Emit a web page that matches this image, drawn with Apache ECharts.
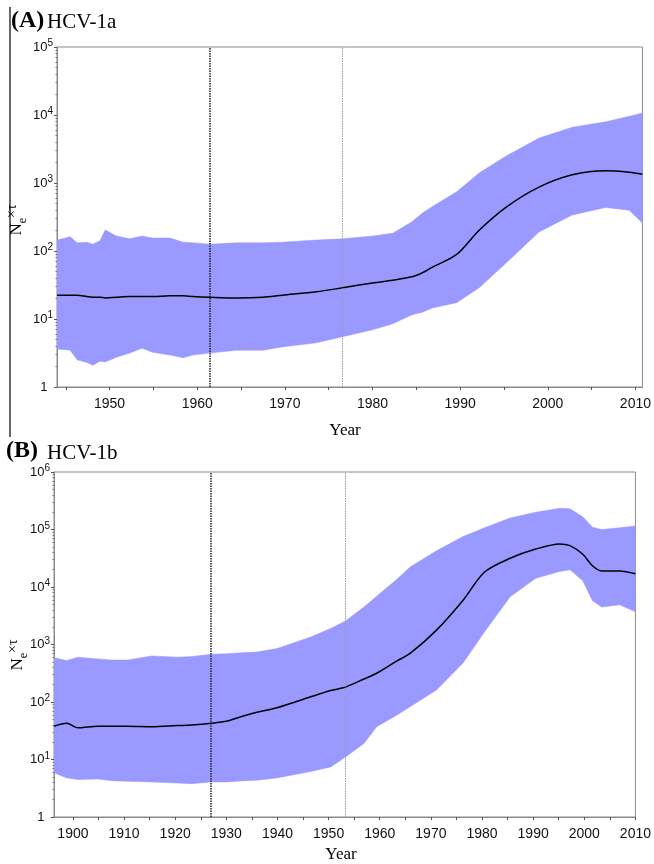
<!DOCTYPE html>
<html>
<head>
<meta charset="utf-8">
<script src="https://cdn.jsdelivr.net/npm/echarts@6/dist/echarts.min.js"></script>
<style>
html,body{margin:0;padding:0;background:#fff;}
#chart{width:654px;height:864px;}
</style>
</head>
<body>
<div id="chart"></div>
<script>
// ---- Panel A: HCV-1a ----
const yearsA  = [1944, 1945.5, 1946.3, 1947.4, 1948.1, 1948.9, 1949.5, 1950.8, 1952.3, 1953.7, 1954.9, 1956.9, 1958.4, 1959.5, 1961.4, 1964.5, 1967.5, 1969.7, 1973.6, 1976.6, 1980.0, 1982.3, 1984.5, 1985.7, 1986.8, 1989.6, 1992.2, 1995.3, 1999.0, 2002.8, 2006.6, 2009.3, 2010.8];
const upperA  = [145, 162, 132, 135, 126, 141, 204, 166, 151, 166, 155, 155, 135, 132, 126, 132, 132, 135, 145, 151, 166, 182, 269, 363, 447, 741, 1413, 2512, 4571, 6607, 7943, 9550, 10715];
const medianA = [22.4, 22.4, 22.4, 21.4, 20.9, 20.9, 20.4, 20.9, 21.4, 21.4, 21.4, 21.9, 21.9, 21.4, 20.9, 20.4, 20.9, 22.4, 25.1, 28.8, 33.9, 37.2, 41.7, 47.9, 57.5, 89.1, 204, 447, 871, 1318, 1514, 1445, 1349];
const lowerA  = [3.63, 3.47, 2.51, 2.29, 2.09, 2.40, 2.34, 2.75, 3.16, 3.72, 3.24, 2.95, 2.69, 2.95, 3.16, 3.47, 3.47, 3.89, 4.47, 5.50, 6.92, 8.5, 11.5, 12.6, 14.5, 17.4, 29, 67.6, 191, 339, 437, 398, 257];
const eventsA = [1961.4, 1976.6];
const xTicksA  = [1945, 1950, 1955, 1960, 1965, 1970, 1975, 1980, 1985, 1990, 1995, 2000, 2005, 2010];
const xLabelsA = [1950, 1960, 1970, 1980, 1990, 2000, 2010];
const yLabelsA = [1, 10, 100, 1000, 10000, 100000];

// ---- Panel B: HCV-1b ----
const yearsB  = [1896.3, 1898.8, 1901.0, 1904.9, 1907.6, 1910.7, 1915.4, 1920.4, 1923.2, 1927.1, 1930.2, 1933.5, 1936.0, 1939.9, 1946.5, 1950.4, 1953.3, 1956.9, 1959.4, 1963.3, 1966.0, 1971.1, 1976.3, 1980.5, 1985.5, 1990.5, 1995.2, 1997.2, 1999.7, 2001.6, 2003.4, 2006.9, 2010];
const upperB  = [589, 525, 603, 562, 537, 537, 631, 603, 617, 676, 692, 724, 741, 851, 1349, 1905, 2570, 4467, 6918, 13490, 22390, 42660, 75860, 107200, 158500, 199500, 234400, 229100, 166000, 109600, 100000, 107200, 114800];
const medianB = [38.0, 42.7, 35.5, 38.0, 38.0, 38.0, 37.2, 38.9, 39.8, 42.7, 46.8, 57.5, 66.1, 79.4, 123, 158, 182, 251, 316, 513, 708, 1778, 5888, 18200, 31620, 45710, 56230, 52480, 37150, 23440, 19050, 19050, 16980];
const lowerB  = [5.89, 4.79, 4.47, 4.57, 4.27, 4.17, 4.07, 3.89, 3.80, 4.07, 4.07, 4.27, 4.37, 4.79, 6.17, 7.41, 11.0, 19.0, 37.2, 58.9, 83.2, 162, 479, 1660, 6761, 14130, 18620, 19950, 12880, 5754, 4467, 4898, 3715];
const eventsB = [1926.9, 1953.3];
const xTicksB  = [1900, 1905, 1910, 1915, 1920, 1925, 1930, 1935, 1940, 1945, 1950, 1955, 1960, 1965, 1970, 1975, 1980, 1985, 1990, 1995, 2000, 2005, 2010];
const xLabelsB = [1900, 1910, 1920, 1930, 1940, 1950, 1960, 1970, 1980, 1990, 2000, 2010];
const yLabelsB = [1, 10, 100, 1000, 10000, 100000, 1000000];

const chart = echarts.init(document.getElementById('chart'), null, {renderer: 'canvas'});

const BAND = '#9999ff';
const AXC = '#8a8a8a';

function yFmt(v) {
  if (v === 1) return '1{s|  }';
  return '10{s|' + Math.round(Math.log10(v)) + '}';
}

function xAxisCfg(idx, min, max, ticks, labels) {
  return {
    type: 'value', gridIndex: idx, min: min, max: max,
    axisLine: {show: true, lineStyle: {color: AXC, width: 1}},
    axisTick: {show: true, length: 3, customValues: ticks, lineStyle: {color: '#555'}},
    axisLabel: {customValues: labels, margin: 10, fontFamily: 'Liberation Sans', fontSize: 14, color: '#111',
      formatter: function (v) { return String(Math.round(v)); }},
    splitLine: {show: false}
  };
}
function yAxisCfg(idx, max, labels) {
  return {
    type: 'log', logBase: 10, gridIndex: idx, min: 1, max: max,
    axisLine: {show: true, lineStyle: {color: AXC, width: 1}},
    axisTick: {show: true, length: 3, customValues: labels, lineStyle: {color: '#555'}},
    minorTick: {show: true, splitNumber: 9, length: 1.5, lineStyle: {color: '#777'}},
    axisLabel: {
      customValues: labels, margin: 4, fontFamily: 'Liberation Sans', fontSize: 13, color: '#111',
      lineHeight: 17, formatter: yFmt,
      rich: {s: {fontSize: 10, lineHeight: 10, verticalAlign: 'top', fontFamily: 'Liberation Sans', color: '#111'}}
    },
    splitLine: {show: false}
  };
}

function bandSeries(idx, years, upper, lower) {
  return {
    type: 'custom', xAxisIndex: idx, yAxisIndex: idx, silent: true, clip: true,
    data: [[years[0], lower[0]]],
    renderItem: function (params, api) {
      const pts = [];
      for (let i = 0; i < years.length; i++) pts.push(api.coord([years[i], upper[i]]));
      for (let i = years.length - 1; i >= 0; i--) pts.push(api.coord([years[i], lower[i]]));
      return {type: 'polygon', shape: {points: pts}, style: {fill: BAND, stroke: BAND, lineWidth: 0.5}};
    },
    z: 1
  };
}

function medianSeries(idx, years, med, events) {
  return {
    type: 'line', xAxisIndex: idx, yAxisIndex: idx,
    data: years.map((y, i) => [y, med[i]]),
    showSymbol: false, smooth: 0.3, silent: true,
    lineStyle: {color: '#000', width: 1.5},
    z: 3,
    markLine: {
      silent: true, symbol: ['none', 'none'], label: {show: false},
      data: [
        {xAxis: events[0], lineStyle: {color: '#222', type: [1.5, 1], width: 1.5}},
        {xAxis: events[1], lineStyle: {color: '#9a9a9a', type: [1.5, 1], width: 1}}
      ]
    }
  };
}

const serif = '"Liberation Serif", "DejaVu Serif", serif';
const nameRich = {
  n: {fontFamily: serif, fontSize: 17, lineHeight: 24, verticalAlign: 'middle', fill: '#000'},
  e: {fontFamily: serif, fontSize: 12, lineHeight: 12, verticalAlign: 'bottom', fill: '#000'},
  t: {fontFamily: serif, fontSize: 14, lineHeight: 14, verticalAlign: 'top', fill: '#000'}
};

const option = {
  animation: false,
  backgroundColor: '#fff',
  grid: [
    {left: 57, top: 47, right: 11, bottom: 477, show: true, borderColor: AXC, borderWidth: 1, backgroundColor: 'transparent'},
    {left: 54, top: 472, right: 16, bottom: 47, show: true, borderColor: AXC, borderWidth: 1, backgroundColor: 'transparent'}
  ],
  xAxis: [
    xAxisCfg(0, 1944, 2010.8, xTicksA, xLabelsA),
    xAxisCfg(1, 1896.3, 2010, xTicksB, xLabelsB)
  ],
  yAxis: [
    yAxisCfg(0, 100000, yLabelsA),
    yAxisCfg(1, 1000000, yLabelsB)
  ],
  series: [
    bandSeries(0, yearsA, upperA, lowerA),
    medianSeries(0, yearsA, medianA, eventsA),
    bandSeries(1, yearsB, upperB, lowerB),
    medianSeries(1, yearsB, medianB, eventsB)
  ],
  graphic: [
    {type: 'line', shape: {x1: 10, y1: 7, x2: 10, y2: 437}, style: {stroke: '#333', lineWidth: 1.5}},
    {type: 'text', x: 11, y: 21, style: {text: '(A)', font: 'bold 24px ' + serif, fill: '#000', verticalAlign: 'middle', align: 'left'}},
    {type: 'text', x: 47, y: 22, style: {text: 'HCV-1a', font: '21px ' + serif, fill: '#000', verticalAlign: 'middle', align: 'left'}},
    {type: 'text', x: 6, y: 451, style: {text: '(B)', font: 'bold 24px ' + serif, fill: '#000', verticalAlign: 'middle', align: 'left'}},
    {type: 'text', x: 47, y: 453, style: {text: 'HCV-1b', font: '21px ' + serif, fill: '#000', verticalAlign: 'middle', align: 'left'}},
    {type: 'text', x: 345, y: 431, style: {text: 'Year', font: '17px ' + serif, fill: '#000', verticalAlign: 'middle', align: 'center'}},
    {type: 'text', x: 341, y: 855, style: {text: 'Year', font: '17px ' + serif, fill: '#000', verticalAlign: 'middle', align: 'center'}},
    {type: 'text', x: 17, y: 220, rotation: Math.PI / 2,
      style: {text: '{n|N}{e|e}{t|×τ}', align: 'center', verticalAlign: 'middle', rich: nameRich}},
    {type: 'text', x: 18, y: 655, rotation: Math.PI / 2,
      style: {text: '{n|N}{e|e}{t|×τ}', align: 'center', verticalAlign: 'middle', rich: nameRich}}
  ]
};
chart.setOption(option);
</script>
</body>
</html>
